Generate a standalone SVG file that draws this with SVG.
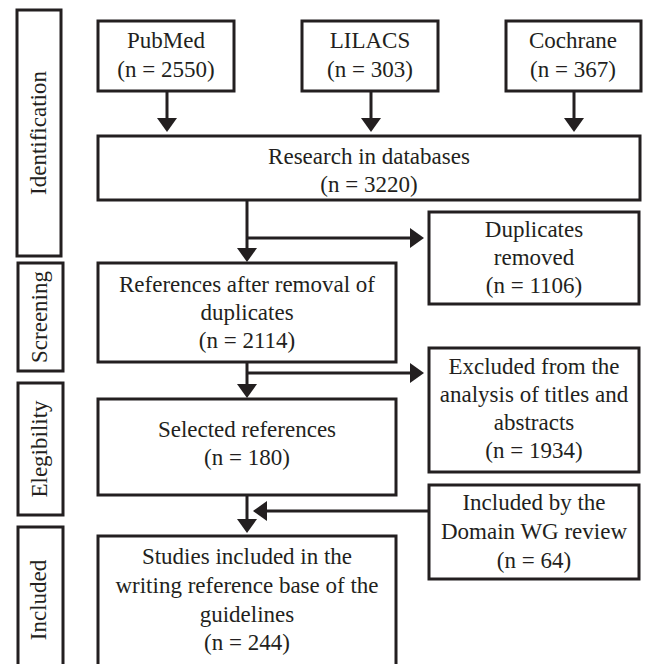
<svg xmlns="http://www.w3.org/2000/svg" width="648" height="664" viewBox="0 0 648 664">
<style>
  .box { fill: #ffffff; stroke: #231f20; stroke-width: 3; }
  .conn { stroke: #231f20; stroke-width: 3; fill: none; }
  .t { font-family: 'Liberation Serif', 'DejaVu Serif', serif; font-size: 23px; fill: #231f20; text-anchor: middle; }
</style>
<defs>
  <marker id="ah" viewBox="0 0 14 20" refX="1" refY="10" markerWidth="14" markerHeight="20" orient="auto" markerUnits="userSpaceOnUse">
    <path d="M0,0 L14,10 L0,20 z" fill="#231f20"/>
  </marker>
</defs>
<rect width="648" height="664" fill="#ffffff"/>

<g id="stage-identification">
  <rect class="box" x="17" y="10" width="44" height="246"/>
  <text class="t" font-family="Liberation Serif, serif" transform="translate(46,133) rotate(-90)">Identification</text>
</g>
<g id="stage-screening">
  <rect class="box" x="18" y="263" width="45" height="108"/>
  <text class="t" transform="translate(47,317) rotate(-90)">Screening</text>
</g>
<g id="stage-elegibility">
  <rect class="box" x="18" y="383" width="45" height="132"/>
  <text class="t" transform="translate(47,449) rotate(-90)">Elegibility</text>
</g>
<g id="stage-included">
  <rect class="box" x="18" y="527" width="45" height="160"/>
  <text class="t" transform="translate(46,600) rotate(-90)">Included</text>
</g>

<g id="connectors">
  <line class="conn" x1="167" y1="91" x2="167" y2="119" marker-end="url(#ah)"/>
  <line class="conn" x1="371" y1="91" x2="371" y2="119" marker-end="url(#ah)"/>
  <line class="conn" x1="574" y1="91" x2="574" y2="119" marker-end="url(#ah)"/>
  <line class="conn" x1="247" y1="200" x2="247" y2="249" marker-end="url(#ah)"/>
  <line class="conn" x1="246" y1="238" x2="411" y2="238" marker-end="url(#ah)"/>
  <line class="conn" x1="247" y1="362" x2="247" y2="385" marker-end="url(#ah)"/>
  <line class="conn" x1="246" y1="373" x2="411" y2="373" marker-end="url(#ah)"/>
  <line class="conn" x1="247" y1="495" x2="247" y2="520" marker-end="url(#ah)"/>
  <line class="conn" x1="429" y1="511" x2="266" y2="511" marker-end="url(#ah)"/>
</g>

<g id="pubmed">
  <rect class="box" x="98" y="21" width="136" height="70"/>
  <text class="t" x="166" y="48">PubMed</text>
  <text class="t" x="166" y="77">(n = 2550)</text>
</g>
<g id="lilacs">
  <rect class="box" x="302" y="21" width="136" height="70"/>
  <text class="t" x="370" y="48">LILACS</text>
  <text class="t" x="370" y="77">(n = 303)</text>
</g>
<g id="cochrane">
  <rect class="box" x="506" y="21" width="135" height="70"/>
  <text class="t" x="573" y="48">Cochrane</text>
  <text class="t" x="573" y="77">(n = 367)</text>
</g>
<g id="research">
  <rect class="box" x="98" y="136" width="542" height="64"/>
  <text class="t" x="369" y="164">Research in databases</text>
  <text class="t" x="369" y="192">(n = 3220)</text>
</g>
<g id="duplicates">
  <rect class="box" x="429" y="212" width="210" height="92"/>
  <text class="t" x="534" y="237">Duplicates</text>
  <text class="t" x="534" y="265">removed</text>
  <text class="t" x="534" y="293">(n = 1106)</text>
</g>
<g id="references">
  <rect class="box" x="98" y="263" width="298" height="99"/>
  <text class="t" x="247" y="292">References after removal of</text>
  <text class="t" x="247" y="320">duplicates</text>
  <text class="t" x="247" y="348">(n = 2114)</text>
</g>
<g id="excluded">
  <rect class="box" x="429" y="348" width="210" height="124"/>
  <text class="t" x="534" y="374">Excluded from the</text>
  <text class="t" x="534" y="402">analysis of titles and</text>
  <text class="t" x="534" y="430">abstracts</text>
  <text class="t" x="534" y="458">(n = 1934)</text>
</g>
<g id="selected">
  <rect class="box" x="98" y="399" width="298" height="96"/>
  <text class="t" x="247" y="437">Selected references</text>
  <text class="t" x="247" y="465">(n = 180)</text>
</g>
<g id="included-by">
  <rect class="box" x="429" y="485" width="210" height="94"/>
  <text class="t" x="534" y="510">Included by the</text>
  <text class="t" x="534" y="539">Domain WG review</text>
  <text class="t" x="534" y="568">(n = 64)</text>
</g>
<g id="studies">
  <rect class="box" x="98" y="536" width="298" height="150"/>
  <text class="t" x="247" y="564">Studies included in the</text>
  <text class="t" x="247" y="593">writing reference base of the</text>
  <text class="t" x="247" y="622">guidelines</text>
  <text class="t" x="247" y="650">(n = 244)</text>
</g>
</svg>
